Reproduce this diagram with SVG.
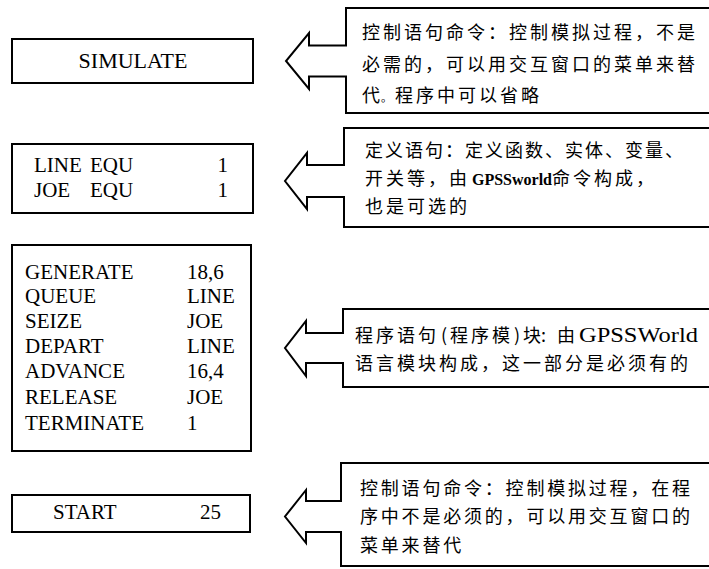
<svg xmlns="http://www.w3.org/2000/svg" width="709" height="569" viewBox="0 0 709 569">
<style>
.box{fill:#fff;stroke:#000;stroke-width:2}
.call{fill:#fff;stroke:#000;stroke-width:2;stroke-linejoin:miter}
.code{font-family:"Liberation Serif","Times New Roman",serif;font-size:21px;fill:#000}
.cjk{font-family:"Noto Sans CJK SC","Noto Sans",sans-serif;font-size:18px;fill:#000;letter-spacing:3px}
.lat{font-family:"Liberation Serif","Times New Roman",serif;font-size:21px;fill:#000;letter-spacing:0}
</style>
<rect width="709" height="569" fill="#fff"/>

<g id="simulate">
<rect class="box" x="12" y="39" width="241" height="44"/>
<text class="code" x="133" y="68" text-anchor="middle" style="font-size:22px">SIMULATE</text>
</g>

<g id="equ">
<rect class="box" x="12" y="144" width="241" height="69"/>
<text class="code" x="34" y="172">LINE</text>
<text class="code" x="90" y="172">EQU</text>
<text class="code" x="228" y="172" text-anchor="end">1</text>
<text class="code" x="34" y="197">JOE</text>
<text class="code" x="90" y="197">EQU</text>
<text class="code" x="228" y="197" text-anchor="end">1</text>
</g>

<g id="blocks">
<rect class="box" x="12" y="245" width="239" height="206"/>
<text class="code" x="25" y="279">GENERATE</text><text class="code" x="187" y="279">18,6</text>
<text class="code" x="25" y="303">QUEUE</text><text class="code" x="187" y="303">LINE</text>
<text class="code" x="25" y="328">SEIZE</text><text class="code" x="187" y="328">JOE</text>
<text class="code" x="25" y="353">DEPART</text><text class="code" x="187" y="353">LINE</text>
<text class="code" x="25" y="378">ADVANCE</text><text class="code" x="187" y="378">16,4</text>
<text class="code" x="25" y="404">RELEASE</text><text class="code" x="187" y="404">JOE</text>
<text class="code" x="25" y="430">TERMINATE</text><text class="code" x="187" y="430">1</text>
</g>

<g id="start">
<rect class="box" x="12" y="495" width="238" height="37"/>
<text class="code" x="53" y="519">START</text>
<text class="code" x="200" y="519">25</text>
</g>

<g id="note1">
<path class="call" d="M712 8 H346 V45.5 H309 V33 L286 61 L309 89 V76.5 H346 V113 H712"/>
<text class="cjk" x="362" y="39">控制语句命令：控制模拟过程，不是</text>
<text class="cjk" x="362" y="71">必需的，可以用交互窗口的菜单来替</text>
<text class="cjk" y="102"><tspan x="362" style="letter-spacing:0">代</tspan><tspan x="381" style="font-size:11px;letter-spacing:0">。</tspan><tspan x="395">程序中可以省略</tspan></text>
</g>

<g id="note2">
<path class="call" d="M712 128 H344 V165 H307 V153 L285 181 L307 209 V197 H344 V227 H712"/>
<text class="cjk" x="365" y="157" style="letter-spacing:2px">定义语句：定义函数、实体、变量、</text>
<text class="cjk" y="185"><tspan x="365">开关等，由</tspan><tspan class="lat" x="472" style="font-size:16px;font-weight:bold">GPSSworld</tspan><tspan x="552">命令构成，</tspan></text>
<text class="cjk" x="365" y="213">也是可选的</text>
</g>

<g id="note3">
<path class="call" d="M712 309 H343 V333 H306 V321 L285 348 L306 376 V363 H343 V387 H712"/>
<text class="cjk" y="342"><tspan x="355">程序语句</tspan><tspan x="441" style="letter-spacing:0">(</tspan><tspan x="450">程序模</tspan><tspan x="514" style="letter-spacing:0">)</tspan><tspan x="523" style="letter-spacing:0">块:</tspan><tspan x="557">由</tspan><tspan class="lat" x="579" textLength="119" lengthAdjust="spacingAndGlyphs">GPSSWorld</tspan></text>
<text class="cjk" x="355" y="370">语言模块构成，这一部分是必须有的</text>
</g>

<g id="note4">
<path class="call" d="M712 463 H341 V501 H306 V490 L285 516.5 L306 543 V532 H341 V566 H712"/>
<text class="cjk" x="360" y="495" style="letter-spacing:2.8px">控制语句命令：控制模拟过程，在程</text>
<text class="cjk" x="360" y="523" style="letter-spacing:2.8px">序中不是必须的，可以用交互窗口的</text>
<text class="cjk" x="360" y="552" style="letter-spacing:2.8px">菜单来替代</text>
</g>
</svg>
